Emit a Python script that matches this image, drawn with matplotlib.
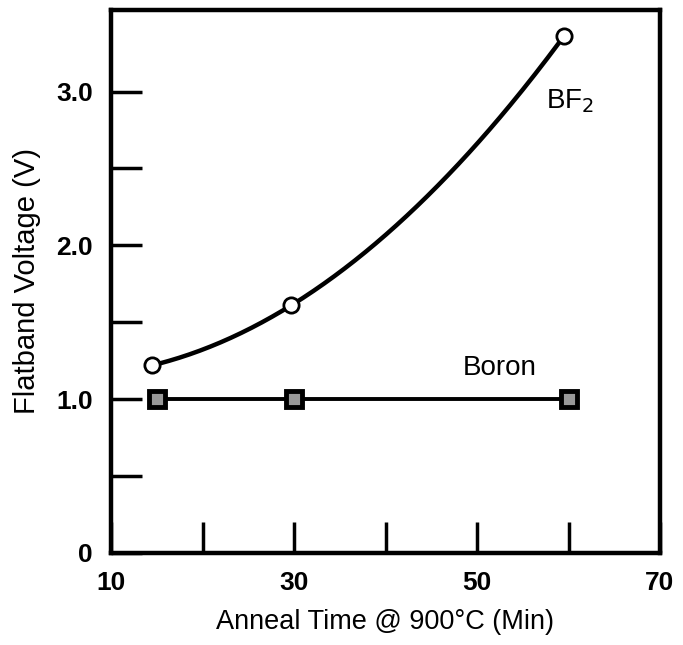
import numpy as np
import matplotlib.pyplot as plt

plt.rcParams['font.family'] = ['Liberation Sans', 'DejaVu Sans']

# data
bf2_time = [14.5, 29.7, 59.5]
bf2_vfb = [1.22, 1.61, 3.36]
boron_time = [15.0, 30.0, 60.0]
boron_vfb = [1.0, 1.0, 1.0]

x_ticks = [10, 20, 30, 40, 50, 60, 70]
x_labels = ['10', '', '30', '', '50', '', '70']
y_ticks = [0, 0.5, 1.0, 1.5, 2.0, 2.5, 3.0]
y_labels = ['0', '', '1.0', '', '2.0', '', '3.0']

fig = plt.figure(figsize=(6.83, 6.45), dpi=100)
ax = fig.add_axes([111 / 683, 1 - 553 / 645, (660 - 111) / 683, (553 - 10) / 645])

# smooth curve through the BF2 points
coef = np.polyfit(bf2_time, bf2_vfb, 2)
xs = np.linspace(bf2_time[0], bf2_time[-1], 200)
ax.plot(xs, np.polyval(coef, xs), color='black', lw=3.2, zorder=2)
ax.plot(bf2_time, bf2_vfb, 'o', ms=11, mfc='white', mec='black', mew=2, zorder=3)

ax.plot(boron_time, boron_vfb, color='black', lw=2.8, zorder=2)
ax.plot(boron_time, boron_vfb, 's', ms=11, mfc='#999999', mec='black', mew=3.5, zorder=3)

ax.text(60.2, 2.94, 'BF$_2$', fontsize=20, ha='center', va='center')
ax.text(52.5, 1.2, 'Boron', fontsize=20, ha='center', va='center')

ax.set_xlim(10, 70)
ax.set_ylim(0, 3.53)
ax.set_xticks(x_ticks)
ax.set_xticklabels(x_labels)
ax.set_yticks(y_ticks)
ax.set_yticklabels(y_labels)
ax.tick_params(direction='in', length=22, width=2.5, labelsize=19)
ax.tick_params(axis='x', pad=13)
ax.tick_params(axis='y', pad=13)
for lab in ax.get_xticklabels() + ax.get_yticklabels():
    lab.set_fontweight('bold')
for s in ax.spines.values():
    s.set_linewidth(3.2)

ax.set_xlabel('Anneal Time @ 900°C (Min)', fontsize=19.5, va='top')
ax.set_ylabel('Flatband Voltage (V)', fontsize=21)
ax.xaxis.set_label_coords(0.5, -0.104)
ax.yaxis.set_label_coords(-0.128, 0.5)

fig.savefig('out.png', dpi=100)
